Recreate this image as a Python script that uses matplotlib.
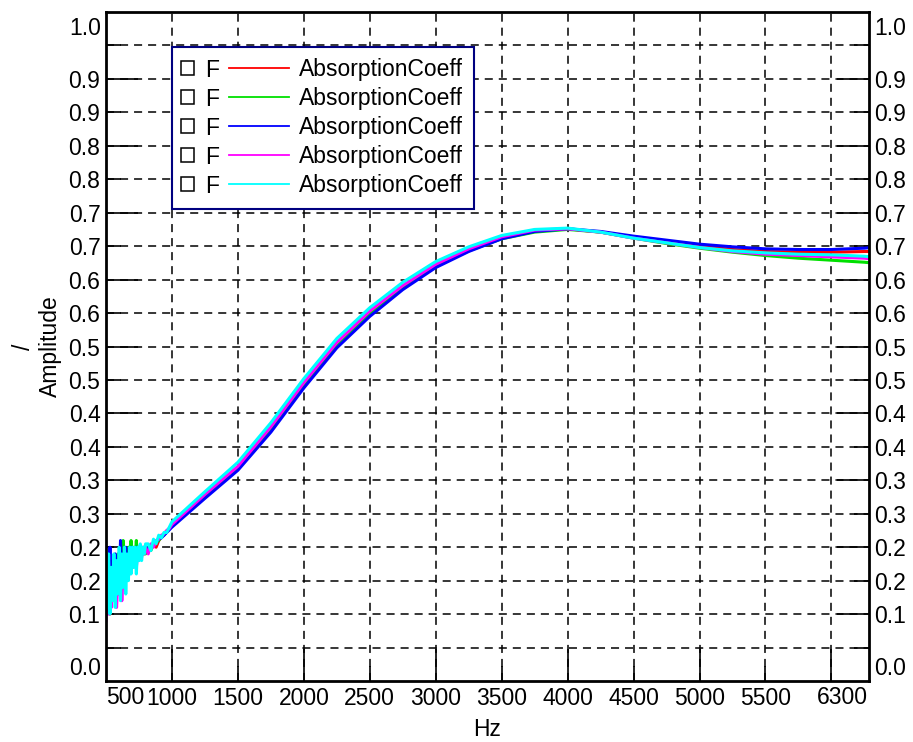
import matplotlib
matplotlib.use("Agg")
import matplotlib.pyplot as plt
from matplotlib.legend_handler import HandlerBase
from matplotlib.patches import Rectangle
from matplotlib.lines import Line2D
from matplotlib.text import Text

plt.rcParams['font.family'] = ['Liberation Sans', 'DejaVu Sans']
plt.rcParams['lines.scale_dashes'] = False
FS = 16.5

# frequency grid (Hz): dense where the measurement is noisy
freq = [500, 510, 520, 530, 540, 550, 560, 570, 580, 590, 600, 610, 620, 630, 640,
        650, 660, 670, 680, 690, 700, 710, 720, 730, 740, 750, 760, 770, 780, 790, 800,
        820, 840, 860, 880, 900, 920, 940, 960, 980,
        1000, 1250, 1500, 1750, 2000, 2250, 2500, 2750, 3000, 3250, 3500, 3750,
        4000, 4250, 4500, 4750, 5000, 5250, 5500, 5750, 6000, 6250, 6300]

red = [0.17, 0.12, 0.15, 0.10, 0.16, 0.13, 0.18, 0.12, 0.16, 0.14, 0.17, 0.15, 0.19, 0.14, 0.17,
       0.16, 0.19, 0.16, 0.18, 0.17, 0.19, 0.175, 0.19, 0.18, 0.19, 0.185, 0.19, 0.19, 0.195, 0.19, 0.195,
       0.20, 0.20, 0.205, 0.20, 0.21, 0.215, 0.22, 0.224, 0.228,
       0.233, 0.277, 0.319, 0.378, 0.444, 0.504, 0.551, 0.590, 0.622, 0.645, 0.663, 0.673,
       0.676, 0.671, 0.663, 0.656, 0.650, 0.645, 0.642, 0.641, 0.641, 0.642, 0.642]
green = [0.13, 0.17, 0.11, 0.16, 0.12, 0.18, 0.13, 0.17, 0.14, 0.19, 0.14, 0.18, 0.15, 0.21, 0.16,
         0.19, 0.15, 0.20, 0.17, 0.21, 0.17, 0.20, 0.18, 0.21, 0.18, 0.20, 0.185, 0.195, 0.19, 0.20, 0.19,
         0.20, 0.195, 0.205, 0.208, 0.21, 0.216, 0.218, 0.223, 0.227,
         0.232, 0.276, 0.318, 0.376, 0.442, 0.502, 0.549, 0.588, 0.620, 0.643, 0.661, 0.671,
         0.675, 0.671, 0.662, 0.654, 0.647, 0.641, 0.636, 0.632, 0.629, 0.626, 0.625]
blue = [0.15, 0.18, 0.13, 0.20, 0.12, 0.17, 0.14, 0.19, 0.15, 0.18, 0.14, 0.21, 0.16, 0.19, 0.17,
        0.20, 0.16, 0.19, 0.18, 0.20, 0.17, 0.19, 0.18, 0.20, 0.19, 0.20, 0.19, 0.20, 0.195, 0.20, 0.20,
        0.198, 0.203, 0.204, 0.209, 0.212, 0.214, 0.218, 0.222, 0.226,
        0.230, 0.273, 0.315, 0.372, 0.438, 0.498, 0.545, 0.585, 0.618, 0.642, 0.661, 0.672,
        0.676, 0.672, 0.665, 0.659, 0.653, 0.649, 0.646, 0.645, 0.645, 0.647, 0.648]
magenta = [0.09, 0.14, 0.10, 0.16, 0.11, 0.15, 0.12, 0.17, 0.11, 0.15, 0.13, 0.17, 0.12, 0.16, 0.14,
           0.18, 0.15, 0.17, 0.16, 0.19, 0.17, 0.18, 0.19, 0.17, 0.19, 0.18, 0.195, 0.185, 0.20, 0.19, 0.20,
           0.19, 0.205, 0.20, 0.21, 0.212, 0.218, 0.22, 0.225, 0.228,
           0.234, 0.279, 0.321, 0.380, 0.446, 0.506, 0.553, 0.591, 0.623, 0.646, 0.664, 0.674,
           0.676, 0.671, 0.662, 0.655, 0.648, 0.642, 0.638, 0.636, 0.634, 0.632, 0.631]
cyan = [0.16, 0.11, 0.19, 0.10, 0.17, 0.12, 0.19, 0.11, 0.18, 0.13, 0.20, 0.12, 0.19, 0.14, 0.20,
        0.13, 0.19, 0.15, 0.20, 0.16, 0.20, 0.17, 0.20, 0.16, 0.20, 0.18, 0.205, 0.18, 0.20, 0.19, 0.205,
        0.205, 0.195, 0.212, 0.205, 0.218, 0.214, 0.222, 0.222, 0.23,
        0.238, 0.283, 0.327, 0.386, 0.452, 0.512, 0.558, 0.596, 0.627, 0.649, 0.666, 0.675,
        0.677, 0.671, 0.662, 0.655, 0.648, 0.643, 0.640, 0.638, 0.637, 0.635, 0.634]

series = [red, green, blue, magenta, cyan]
colors = ['#ff0000', '#00e000', '#0000ff', '#ff00ff', '#00ffff']
label = 'AbsorptionCoeff'

yt_major = [0.1, 0.2, 0.3, 0.4, 0.5, 0.6, 0.7, 0.8, 0.9]
yt_major_lab = ['0.1', '0.2', '0.3', '0.4', '0.5', '0.6', '0.7', '0.8', '0.9']
yt_minor = [0.05, 0.15, 0.25, 0.35, 0.45, 0.55, 0.65, 0.75, 0.85, 0.95]
yt_minor_lab = ['', '0.2', '0.3', '0.4', '0.5', '0.6', '0.7', '0.8', '0.9', '']
xt_major = [1000, 2000, 3000, 4000, 5000, 6000]
xt_major_lab = ['1000', '2000', '3000', '4000', '5000', '']
xt_minor = [1500, 2500, 3500, 4500, 5500]
xt_minor_lab = ['1500', '2500', '3500', '4500', '5500']


class BoxFLine(HandlerBase):
    # legend entry drawn as: empty square, "F", then the coloured line
    def create_artists(self, legend, orig_handle, xdescent, ydescent,
                       width, height, fontsize, trans):
        x0 = -xdescent
        cy = height / 2 - ydescent
        s = 9.8
        sq = Rectangle((x0 - 2.0, cy - s / 2), s, s, fill=False, ec='black', lw=1.1,
                       transform=trans)
        f = Text(x0 + 15.5, cy, 'F', ha='left', va='center_baseline',
                 fontsize=fontsize, color='black', transform=trans)
        ln = Line2D([x0 + 33.0, x0 + width], [cy, cy], color=orig_handle.get_color(),
                    lw=1.3, transform=trans)
        return [sq, f, ln]


fig = plt.figure(figsize=(9.13, 7.42), dpi=100)
ax = fig.add_axes([0.1161, 0.0822, 0.8357, 0.9016])

lines = []
for vals, c in zip(series, colors):
    l, = ax.plot(freq, vals, color=c, lw=2.2)
    lines.append(l)

ax.set_xlim(500, 6285)
ax.set_ylim(0.0, 1.0)

ax.set_xticks(xt_major, xt_major_lab)
ax.set_xticks(xt_minor, xt_minor_lab, minor=True)
ax.set_yticks(yt_major, yt_major_lab)
ax.set_yticks(yt_minor, yt_minor_lab, minor=True)

ax.tick_params(which='both', direction='in', right=True, labelright=True,
               labelsize=FS, width=1.2, pad=4, colors='black')
ax.tick_params(which='major', length=23)
ax.tick_params(which='minor', length=11)

ax.grid(which='both', color='black', linestyle=(0, (5.8, 4.3)), lw=1.1)
for sp in ax.spines.values():
    sp.set_linewidth(2.0)

# edge labels drawn inside the axis extent, as in the original
ax.text(-0.0066, 0.976, '1.0', transform=ax.transAxes, ha='right', va='center', fontsize=FS)
ax.text(-0.0066, 0.0194, '0.0', transform=ax.transAxes, ha='right', va='center', fontsize=FS)
ax.text(1.0066, 0.976, '1.0', transform=ax.transAxes, ha='left', va='center', fontsize=FS)
ax.text(1.0066, 0.0194, '0.0', transform=ax.transAxes, ha='left', va='center', fontsize=FS)
ax.text(0.0, -0.0254, '500', transform=ax.transAxes, ha='left', va='center', fontsize=FS)
ax.text(0.9987, -0.0254, '6300', transform=ax.transAxes, ha='right', va='center', fontsize=FS)

ax.set_xlabel('Hz', fontsize=FS, labelpad=6)
ax.set_ylabel('/\nAmplitude', fontsize=FS, labelpad=5, linespacing=1.2)

leg = ax.legend(lines, [label] * 5, loc='upper left', bbox_to_anchor=(0.0865, 0.948),
                borderaxespad=0, fontsize=FS, handlelength=4.6, handletextpad=0.44,
                borderpad=0.5, labelspacing=0.26, fancybox=False, framealpha=1,
                edgecolor='#000080', handler_map={Line2D: BoxFLine()})
leg.get_frame().set_linewidth(1.5)

fig.savefig('out.png', dpi=100)
